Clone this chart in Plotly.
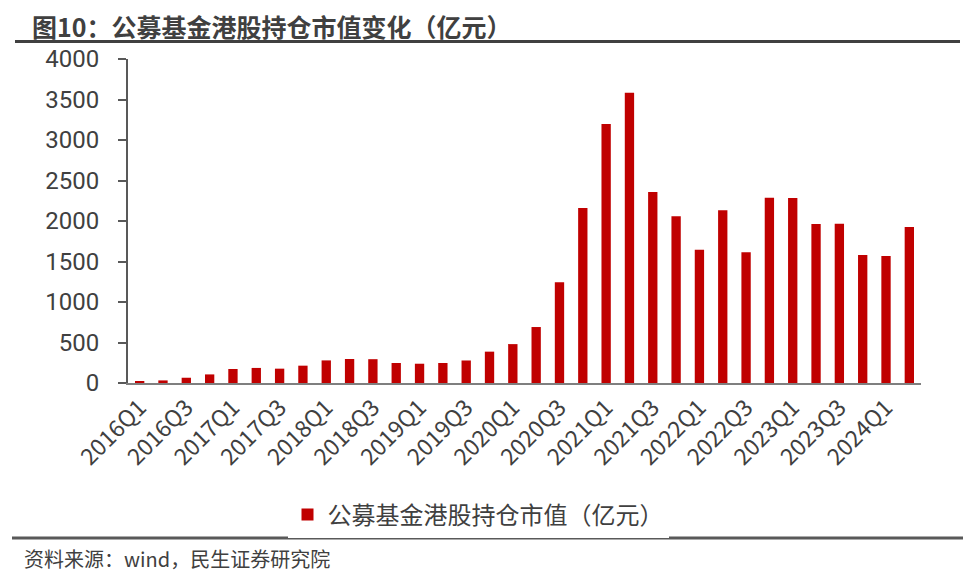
import plotly.graph_objects as go

categories = [f"{y}Q{q}" for y in range(2016, 2025) for q in range(1, 5)][:34]
values = [15, 32, 65, 106, 173, 186, 177, 214,
          279, 296, 294, 247, 238, 247, 278, 387,
          480, 691, 1243, 2160, 3198, 3584, 2358, 2058,
          1646, 2132, 1613, 2288, 2284, 1963, 1967, 1580,
          1568, 1926]
tick_labels = categories[::2]
series_name = "公募基金港股持仓市值（亿元）"
title_text = "图10：公募基金港股持仓市值变化（亿元）"
source_text = "资料来源：wind，民生证券研究院"

FONT = "Noto Sans CJK SC"
GRAY = "#404040"

OFF = 8  # page body margin
W, H = 971 - OFF, 576 - OFF
# plot area in window pixels
L, R, T, B = 128 - OFF, 921 - OFF, 59 - OFF, 383 - OFF
pw, ph = R - L, B - T

def px(x):
    return (x - OFF - L) / pw

def py(y):
    return (B - (y - OFF)) / ph

fig = go.Figure()
fig.add_trace(go.Bar(
    x=categories, y=values, name=series_name,
    marker=dict(color="#C00000", line=dict(width=0)),
    showlegend=True,
))

fig.update_layout(
    width=W, height=H,
    margin=dict(l=L, r=W - R, t=T, b=H - B, autoexpand=False),
    paper_bgcolor="white", plot_bgcolor="white",
    font=dict(family=FONT, color=GRAY),
    bargap=0.6,
    showlegend=True,
    legend=dict(orientation="h", x=px(478), y=py(515), xanchor="center", yanchor="middle",
                font=dict(size=24, color=GRAY, family=FONT), itemwidth=30),
    xaxis=dict(
        type="category", tickmode="array", tickvals=tick_labels, ticktext=tick_labels,
        tickangle=-45, tickfont=dict(size=23, color=GRAY, family=FONT),
        showline=True, linecolor="#7f7f7f", linewidth=2, ticks="", showgrid=False,
        range=[-0.5, len(categories) - 0.5],
    ),
    yaxis=dict(
        range=[0, 4000], tickvals=list(range(0, 4001, 500)),
        tickfont=dict(size=24, color=GRAY, family="Roboto"),
        showline=True, linecolor="#595959", linewidth=2,
        ticks="outside", ticklen=8, tickcolor="#595959", tickwidth=2,
        showgrid=False, zeroline=False, ticklabelstandoff=14,
    ),
    shapes=[
        dict(type="line", xref="paper", yref="paper", x0=px(15), x1=px(960), y0=py(41.5), y1=py(41.5),
             line=dict(color="#404040", width=3)),
        dict(type="line", xref="paper", yref="paper", x0=px(12), x1=px(971), y0=py(538), y1=py(538),
             line=dict(color="#595959", width=3)),
    ],
    annotations=[
        dict(text=f"<b>{title_text}</b>", xref="paper", yref="paper", x=px(30), y=py(26),
             xanchor="left", yanchor="middle", showarrow=False, height=28, valign="middle",
             font=dict(size=25, color=GRAY, family=FONT)),
        dict(text=source_text, xref="paper", yref="paper", x=px(22), y=py(558),
             xanchor="left", yanchor="middle", showarrow=False,
             font=dict(size=20, color=GRAY, family=FONT)),
    ],
)

fig.write_html("out.html")
